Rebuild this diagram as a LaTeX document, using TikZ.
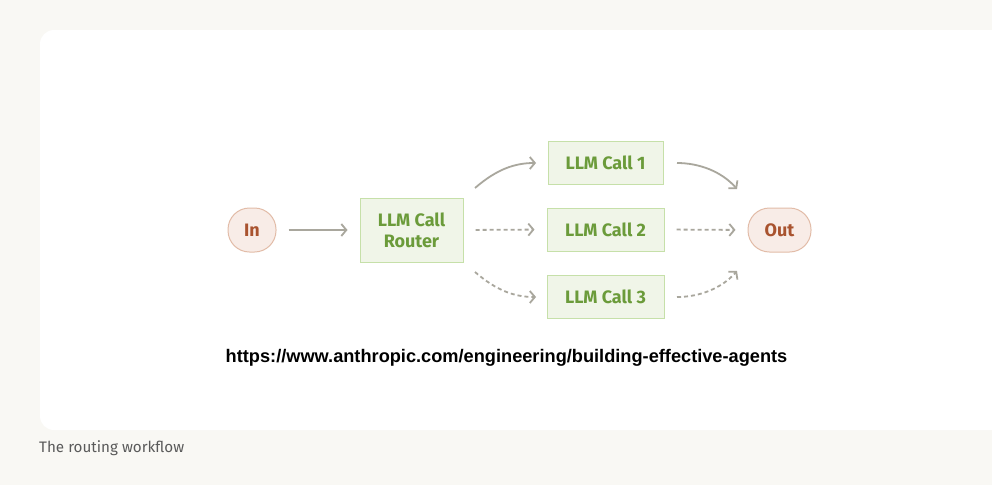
\documentclass[tikz,border=0pt]{standalone}
\usepackage{fontspec}
\setmainfont{Fira Sans}
\newfontfamily\urlfont{Liberation Sans}
\usetikzlibrary{arrows.meta}
\definecolor{bgc}{HTML}{F9F8F4}
\definecolor{arrc}{HTML}{A9A79D}
\definecolor{boxfill}{HTML}{F0F5E8}
\definecolor{boxdraw}{HTML}{C6E0A9}
\definecolor{boxtext}{HTML}{6B9B3A}
\definecolor{iofill}{HTML}{F8ECE7}
\definecolor{iodraw}{HTML}{E2BCA8}
\definecolor{iotext}{HTML}{A9532F}
\definecolor{captc}{HTML}{5A5A5A}
\begin{document}
\begin{tikzpicture}[x=1pt,y=-1pt,
  callbox/.style={draw=boxdraw,fill=boxfill,line width=1pt,text=boxtext,
    font=\fontsize{18}{21}\selectfont\bfseries,align=center,inner sep=0pt},
  iobox/.style={draw=iodraw,fill=iofill,line width=1pt,text=iotext,
    font=\fontsize{18}{21}\selectfont\bfseries,rounded corners=21.5pt,inner sep=0pt,minimum height=44pt},
  conn/.style={draw=arrc,line width=1.8pt,-{Straight Barb[length=5pt,width=12pt,line width=1.8pt]}},
  dconn/.style={conn,dash pattern=on 4pt off 3pt},
  gap/.style={shorten <=12pt,shorten >=12pt}]
\useasboundingbox (0,0) rectangle (992,485);
\fill[bgc] (0,0) rectangle (992,485);
\fill[white,rounded corners=14pt] (40,30) rectangle (1005,430);
\node[iobox,minimum width=48pt] (in) at (252,230) {In};
\node[callbox,minimum width=103pt,minimum height=64pt] (router) at (411.5,230) {LLM Call\\Router};
\node[callbox,minimum width=115pt,minimum height=43pt] (c1) at (605.5,162.5) {LLM Call 1};
\node[callbox,minimum width=117pt,minimum height=43pt] (c2) at (605.5,229.5) {LLM Call 2};
\node[callbox,minimum width=117pt,minimum height=43pt] (c3) at (605.5,296.5) {LLM Call 3};
\node[iobox,minimum width=63pt] (out) at (779.5,230) {Out};
\coordinate (r1s) at (475,188);
\coordinate (r1e) at (536,163);
\coordinate (r3s) at (475,272);
\coordinate (r3e) at (536,297);
\coordinate (o1s) at (677,163);
\coordinate (o1e) at (737,189);
\coordinate (o3s) at (677,297);
\coordinate (o3e) at (737,271);
\draw[conn,gap] (in.east) -- (router.west);
\draw[dconn,gap] (router.east) -- (c2.west);
\draw[dconn,gap] (c2.east) -- (out.west);
\draw[conn] (r1s) .. controls (497,169) and (515,163) .. (r1e);
\draw[dconn] (r3s) .. controls (497,291) and (515,297) .. (r3e);
\draw[conn] (o1s) .. controls (700,163) and (722,172) .. (o1e);
\draw[dconn] (o3s) .. controls (700,297) and (722,288) .. (o3e);
\node[font=\urlfont\fontsize{18.2}{20}\selectfont\bfseries,text=black] (url) at (506.5,358) {https://www.anthropic.com/engineering/building-effective-agents};
\node[font=\fontsize{15.2}{17}\selectfont,text=captc,anchor=west,inner sep=0pt] (cap) at (39,448) {The routing workflow};
\end{tikzpicture}
\end{document}
